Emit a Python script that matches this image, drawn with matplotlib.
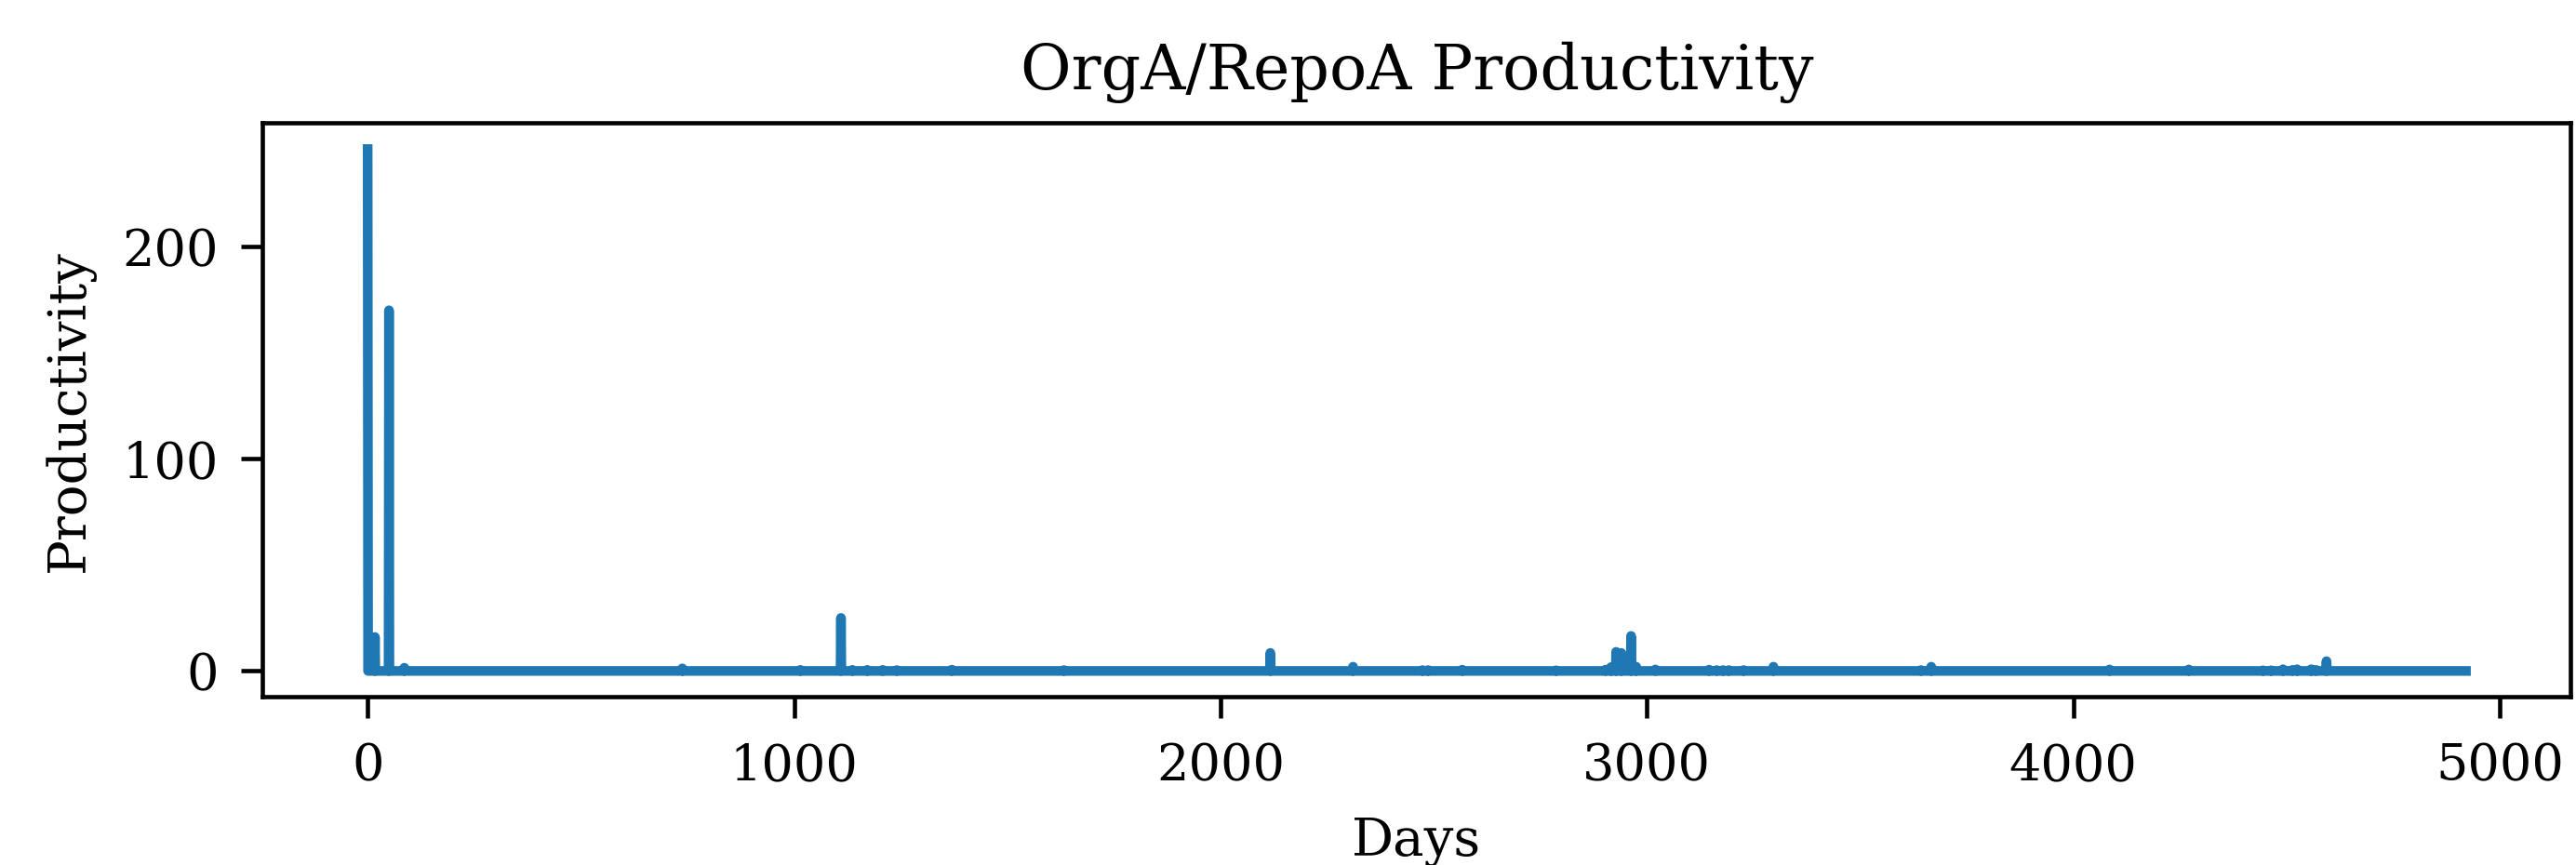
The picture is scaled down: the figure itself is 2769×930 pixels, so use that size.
import matplotlib
matplotlib.use('Agg')
import matplotlib.pyplot as plt
import numpy as np

# daily productivity, zero on every day not listed below
n_days = 4922
spike_days = [0, 17, 50, 86, 738, 1015, 1110, 1137, 1172, 1208, 1241, 1370, 1633,
              2117, 2311, 2474, 2487, 2567, 2787, 2903, 2916, 2928, 2940, 2963, 2975,
              3020, 3146, 3164, 3179, 3192, 3227, 3297, 3643, 3667, 4085, 4271,
              4445, 4464, 4492, 4514, 4525, 4558, 4569, 4594]
spike_values = [246, 16, 170, 1.5, 1.2, 0.5, 25, 0.5, 0.5, 0.5, 0.4, 0.6, 0.4,
                8.5, 2, 0.4, 0.4, 0.6, 0.3, 0.6, 1.8, 9, 8.5, 16.5, 2,
                0.7, 0.6, 0.4, 0.4, 0.4, 0.4, 2, 0.4, 2, 0.7, 0.7,
                0.3, 0.3, 0.8, 0.5, 0.8, 0.8, 0.5, 4.6]

title = 'OrgA/RepoA Productivity'
x_label = 'Days'
y_label = 'Productivity'


def main():
    days = np.arange(n_days)
    productivity = np.zeros(n_days)
    productivity[spike_days] = spike_values

    plt.rcParams['font.family'] = 'DejaVu Serif'
    fig = plt.figure(figsize=(9.23, 3.103), dpi=300)
    ax = fig.add_axes([0.102, 0.194, 0.896, 0.663])

    ax.plot(days, productivity, color='#1f77b4', linewidth=2.5)

    ax.set_title(title, fontsize=16, pad=9)
    ax.set_xlabel(x_label, fontsize=13.5, labelpad=6.5)
    ax.set_ylabel(y_label, fontsize=13.5, labelpad=7)
    ax.set_yticks([0, 100, 200])
    ax.tick_params(labelsize=13, length=5.5, width=1.1, pad=6)
    for spine in ax.spines.values():
        spine.set_linewidth(1.1)

    fig.savefig('out.png', dpi=300)


if __name__ == '__main__':
    main()
